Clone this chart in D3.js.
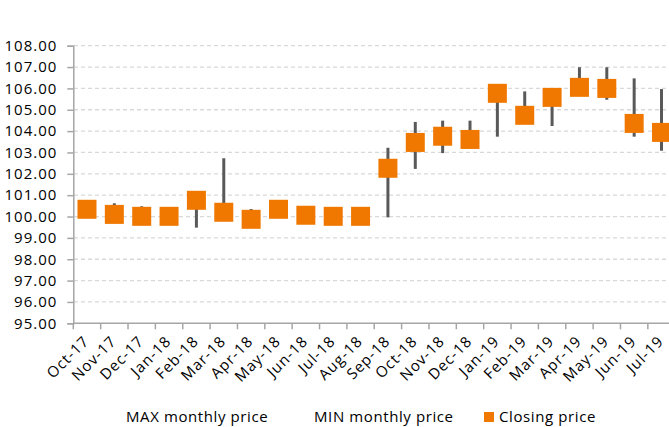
<!DOCTYPE html>
<html>
<head>
<meta charset="utf-8">
<script src="https://cdn.jsdelivr.net/npm/d3@7"></script>
<style>
  body { margin: 0; background: #fff; }
  svg { display: block; font-family: "Open Sans", sans-serif; }
</style>
</head>
<body>
<div id="chart"></div>
<script>
let months = ["Oct-17", "Nov-17", "Dec-17", "Jan-18", "Feb-18", "Mar-18", "Apr-18", "May-18",
  "Jun-18", "Jul-18", "Aug-18", "Sep-18", "Oct-18", "Nov-18", "Dec-18", "Jan-19",
  "Feb-19", "Mar-19", "Apr-19", "May-19", "Jun-19", "Jul-19"];

let maxPrice = [100.45, 100.62, 100.48, 100.10, 100.95, 102.73, 100.35, 100.50, 100.20, 100.10, 100.10,
  103.22, 104.43, 104.49, 104.49, 106.00, 105.86, 105.80, 106.99, 106.99, 106.47, 105.97];

let minPrice = [100.20, 99.95, 99.90, 99.95, 99.48, 100.00, 99.70, 100.15, 99.95, 99.95, 99.95,
  99.96, 102.23, 102.97, 103.30, 103.74, 104.50, 104.24, 105.90, 105.47, 103.74, 103.08];

let closing = [100.34, 100.10, 100.01, 100.01, 100.76, 100.20, 99.87, 100.34, 100.06, 100.01, 100.01,
  102.26, 103.47, 103.76, 103.61, 105.77, 104.74, 105.58, 106.05, 106.00, 104.36, 103.94];

let yTicks = d3.range(95, 108.5, 1);

let legendItems = [
  { label: "MAX monthly price", x: 126, swatch: false },
  { label: "MIN monthly price", x: 314, swatch: false },
  { label: "Closing price", x: 484, swatch: true }
];

function drawChart() {
  let width = 669, height = 427;
  let svg = d3.select("#chart").append("svg")
    .attr("width", width)
    .attr("height", height);

  let x = d3.scaleBand().domain(months).range([73.3, 675.2]).padding(0);
  let y = d3.scaleLinear().domain([95, 108]).range([323.3, 45.7]);

  // gridlines
  svg.append("g").selectAll("line").data(yTicks.slice(1)).enter()
    .append("line")
    .attr("x1", 74).attr("x2", width)
    .attr("y1", d => y(d)).attr("y2", d => y(d))
    .attr("stroke", "#d9d9d9")
    .attr("stroke-width", 1.3)
    .attr("stroke-dasharray", "4,3");

  // y axis
  let yAxis = svg.append("g")
    .attr("transform", "translate(73.3,0)")
    .call(d3.axisLeft(y).tickValues(yTicks).tickFormat(d3.format(".2f")).tickSize(6).tickPadding(10));
  yAxis.select(".domain").attr("stroke", "#a6a6a6").attr("stroke-width", 1.5);
  yAxis.selectAll(".tick line").attr("stroke", "#a6a6a6").attr("stroke-width", 1.5);
  yAxis.selectAll("text")
    .attr("fill", "#000")
    .style("font-size", "15px")
    .style("letter-spacing", "1px")
    .style("font-family", "Open Sans");

  // x axis, ticks on the band edges
  let xAxisY = y(95);
  let xg = svg.append("g");
  xg.append("line")
    .attr("x1", 73.3).attr("x2", width)
    .attr("y1", xAxisY).attr("y2", xAxisY)
    .attr("stroke", "#a6a6a6").attr("stroke-width", 1.5);
  xg.selectAll("line.tk").data(months.concat(["end"])).enter()
    .append("line")
    .attr("class", "tk")
    .attr("x1", (d, i) => 73.3 + i * x.step())
    .attr("x2", (d, i) => 73.3 + i * x.step())
    .attr("y1", xAxisY).attr("y2", xAxisY + 6)
    .attr("stroke", "#a6a6a6").attr("stroke-width", 1.5);
  xg.selectAll("text").data(months).enter()
    .append("text")
    .text(d => d)
    .attr("text-anchor", "end")
    .attr("transform", d => "translate(" + (x(d) + x.bandwidth() / 2 + 3) + "," + (xAxisY + 19) + ") rotate(-45)")
    .style("font-size", "15px")
    .style("letter-spacing", "1px")
    .attr("fill", "#000");

  // high-low lines
  svg.append("g").selectAll("line").data(months).enter()
    .append("line")
    .attr("x1", d => x(d) + x.bandwidth() / 2)
    .attr("x2", d => x(d) + x.bandwidth() / 2)
    .attr("y1", (d, i) => y(maxPrice[i]))
    .attr("y2", (d, i) => y(minPrice[i]))
    .attr("stroke", "#595959")
    .attr("stroke-width", 3);

  // closing markers
  let box = 19;
  svg.append("g").selectAll("rect").data(months).enter()
    .append("rect")
    .attr("x", d => x(d) + x.bandwidth() / 2 - box / 2)
    .attr("y", (d, i) => y(closing[i]) - box / 2)
    .attr("width", box)
    .attr("height", box)
    .attr("fill", "#f07800");

  // legend
  let leg = svg.append("g").selectAll("g").data(legendItems).enter().append("g");
  leg.filter(d => d.swatch).append("rect")
    .attr("x", d => d.x).attr("y", 412)
    .attr("width", 10).attr("height", 10)
    .attr("fill", "#f07800");
  leg.append("text")
    .attr("x", d => d.swatch ? d.x + 15 : d.x)
    .attr("y", 422)
    .text(d => d.label)
    .style("font-size", "15px")
    .style("letter-spacing", "0.6px")
    .attr("fill", "#000");
}

drawChart();
</script>
</body>
</html>
